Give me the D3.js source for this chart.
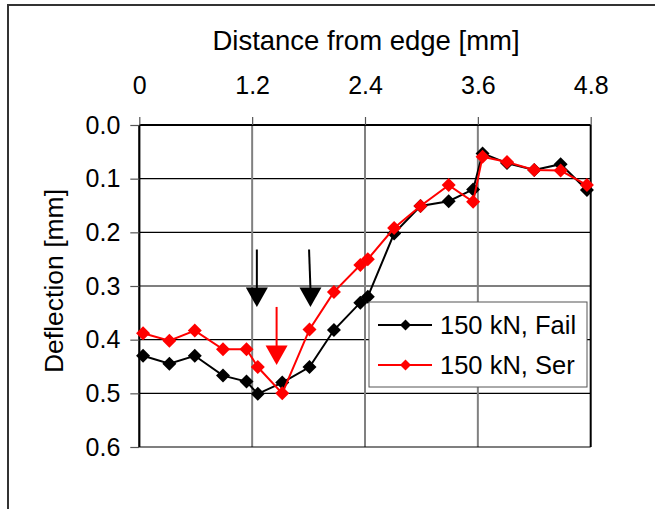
<!DOCTYPE html>
<html><head><meta charset="utf-8">
<script src="https://cdn.jsdelivr.net/npm/d3@7"></script>
<style>
html,body{margin:0;padding:0;background:#fff;}
svg{display:block;font-family:"Liberation Sans",Arial,sans-serif;}
</style></head>
<body><svg id="c" width="655" height="509"></svg>
<script>
const xTicks = [0, 1.2, 2.4, 3.6, 4.8];
const yTicks = [0.0, 0.1, 0.2, 0.3, 0.4, 0.5, 0.6];
const distance = [0.04, 0.32, 0.59, 0.89, 1.14, 1.26, 1.52, 1.81, 2.07, 2.35, 2.43, 2.71, 2.99, 3.29, 3.55, 3.65, 3.91, 4.2, 4.48, 4.76];
const fail150 = [0.430, 0.445, 0.430, 0.467, 0.478, 0.501, 0.480, 0.451, 0.382, 0.331, 0.320, 0.202, 0.151, 0.142, 0.120, 0.053, 0.071, 0.084, 0.073, 0.121];
const ser150  = [0.388, 0.402, 0.383, 0.418, 0.418, 0.451, 0.500, 0.381, 0.311, 0.261, 0.250, 0.192, 0.151, 0.112, 0.143, 0.059, 0.069, 0.084, 0.085, 0.112];
const seriesNames = ["150 kN, Fail", "150 kN, Ser"];
const seriesColors = ["#000000", "#ff0000"];
// arrows: [x, yStart, yTipOfTriangle, color, xTop]
const arrowX = [1.25, 1.82, 1.46];
const arrowXTop = [1.25, 1.805, 1.46];
const arrowYStart = [0.232, 0.232, 0.339];
const arrowYTip = [0.339, 0.339, 0.447];
const arrowColors = ["#000000", "#000000", "#ff0000"];

const svg = d3.select("#c");
const L = 139.3, R = 590.7, T = 125, B = 447;
const x = d3.scaleLinear().domain([0, 4.8]).range([L, R]);
const y = d3.scaleLinear().domain([0, 0.6]).range([T, B]);

// outer border
svg.append("path").attr("d", "M8,509 L8,5 L655,5").attr("fill", "none")
  .attr("stroke", "#333").attr("stroke-width", 2);

// horizontal gridlines
svg.append("g").selectAll("line").data(yTicks.slice(1, 6)).join("line")
  .attr("x1", L).attr("x2", R).attr("y1", d => y(d)).attr("y2", d => y(d))
  .attr("stroke", "#000").attr("stroke-width", 1.2);
// vertical gridlines
svg.append("g").selectAll("line").data(xTicks.slice(1, 4)).join("line")
  .attr("x1", d => x(d)).attr("x2", d => x(d)).attr("y1", T).attr("y2", B)
  .attr("stroke", "#808080").attr("stroke-width", 2);
// bottom line and right line
svg.append("line").attr("x1", L).attr("x2", R).attr("y1", B).attr("y2", B)
  .attr("stroke", "#000").attr("stroke-width", 1.2);
svg.append("line").attr("x1", R).attr("x2", R).attr("y1", T).attr("y2", B)
  .attr("stroke", "#000").attr("stroke-width", 2);

// axes
const xAxis = d3.axisTop(x).tickValues(xTicks).tickSize(8).tickPadding(23)
  .tickFormat(d => d === 0 ? "0" : d3.format(".1f")(d));
const gx = svg.append("g").attr("transform", `translate(0,${T})`).call(xAxis);
gx.select(".domain").attr("stroke", "#000").attr("stroke-width", 2.2).attr("d", `M${L},0H${R}`);
gx.selectAll(".tick line").attr("stroke", "#555").attr("stroke-width", 1.2);
gx.selectAll("text").attr("font-size", 25).attr("fill", "#000").attr("font-family", "Liberation Sans, Arial");

const yAxis = d3.axisLeft(y).tickValues(yTicks).tickSize(9).tickPadding(10)
  .tickFormat(d3.format(".1f"));
const gy = svg.append("g").attr("transform", `translate(${L},0)`).call(yAxis);
gy.select(".domain").attr("stroke", "#000").attr("stroke-width", 2.2).attr("d", `M0,${T}V${B}`);
gy.selectAll(".tick line").attr("stroke", "#555").attr("stroke-width", 1.2);
gy.selectAll("text").attr("font-size", 25).attr("fill", "#000").attr("font-family", "Liberation Sans, Arial");

// titles
svg.append("text").attr("x", 366).attr("y", 50).attr("text-anchor", "middle")
  .attr("font-size", 27.5).attr("fill", "#000").text("Distance from edge [mm]");
svg.append("text").attr("transform", "translate(63,281) rotate(-90)").attr("text-anchor", "middle")
  .attr("font-size", 26.5).attr("fill", "#000").text("Deflection [mm]");

// series
const series = [fail150, ser150];
const diamond = (cx, cy, r) => `M${cx},${cy - r}L${cx + r},${cy}L${cx},${cy + r}L${cx - r},${cy}Z`;
const line = d3.line().x(d => x(d[0])).y(d => y(d[1]));
series.forEach((vals, i) => {
  const pts = distance.map((d, j) => [d, vals[j]]);
  svg.append("path").attr("d", line(pts)).attr("fill", "none")
    .attr("stroke", seriesColors[i]).attr("stroke-width", 2);
  svg.append("g").selectAll("path").data(pts).join("path")
    .attr("d", d => diamond(x(d[0]), y(d[1]), 7)).attr("fill", seriesColors[i]);
});

// arrows
arrowX.forEach((ax, i) => {
  const tipY = y(arrowYTip[i]);
  const px = x(ax);
  const triH = 19.5, triW = 11;
  svg.append("line").attr("x1", x(arrowXTop[i])).attr("y1", y(arrowYStart[i]))
    .attr("x2", px).attr("y2", tipY - triH + 1)
    .attr("stroke", arrowColors[i]).attr("stroke-width", 2);
  svg.append("path").attr("d", `M${px - triW},${tipY - triH}L${px + triW},${tipY - triH}L${px},${tipY}Z`)
    .attr("fill", arrowColors[i]);
});

// legend
const lg = svg.append("g");
lg.append("rect").attr("x", 369).attr("y", 302).attr("width", 218).attr("height", 85)
  .attr("fill", "#fff").attr("stroke", "#555").attr("stroke-width", 1);
seriesNames.forEach((name, i) => {
  const cy = 325 + i * 40;
  lg.append("line").attr("x1", 378).attr("x2", 432).attr("y1", cy).attr("y2", cy)
    .attr("stroke", seriesColors[i]).attr("stroke-width", 2);
  lg.append("path").attr("d", diamond(405.5, cy, 5.5)).attr("fill", seriesColors[i]);
  lg.append("text").attr("x", 440).attr("y", cy + 9).attr("font-size", 25.5)
    .attr("fill", "#000").text(name);
});
</script></body></html>
